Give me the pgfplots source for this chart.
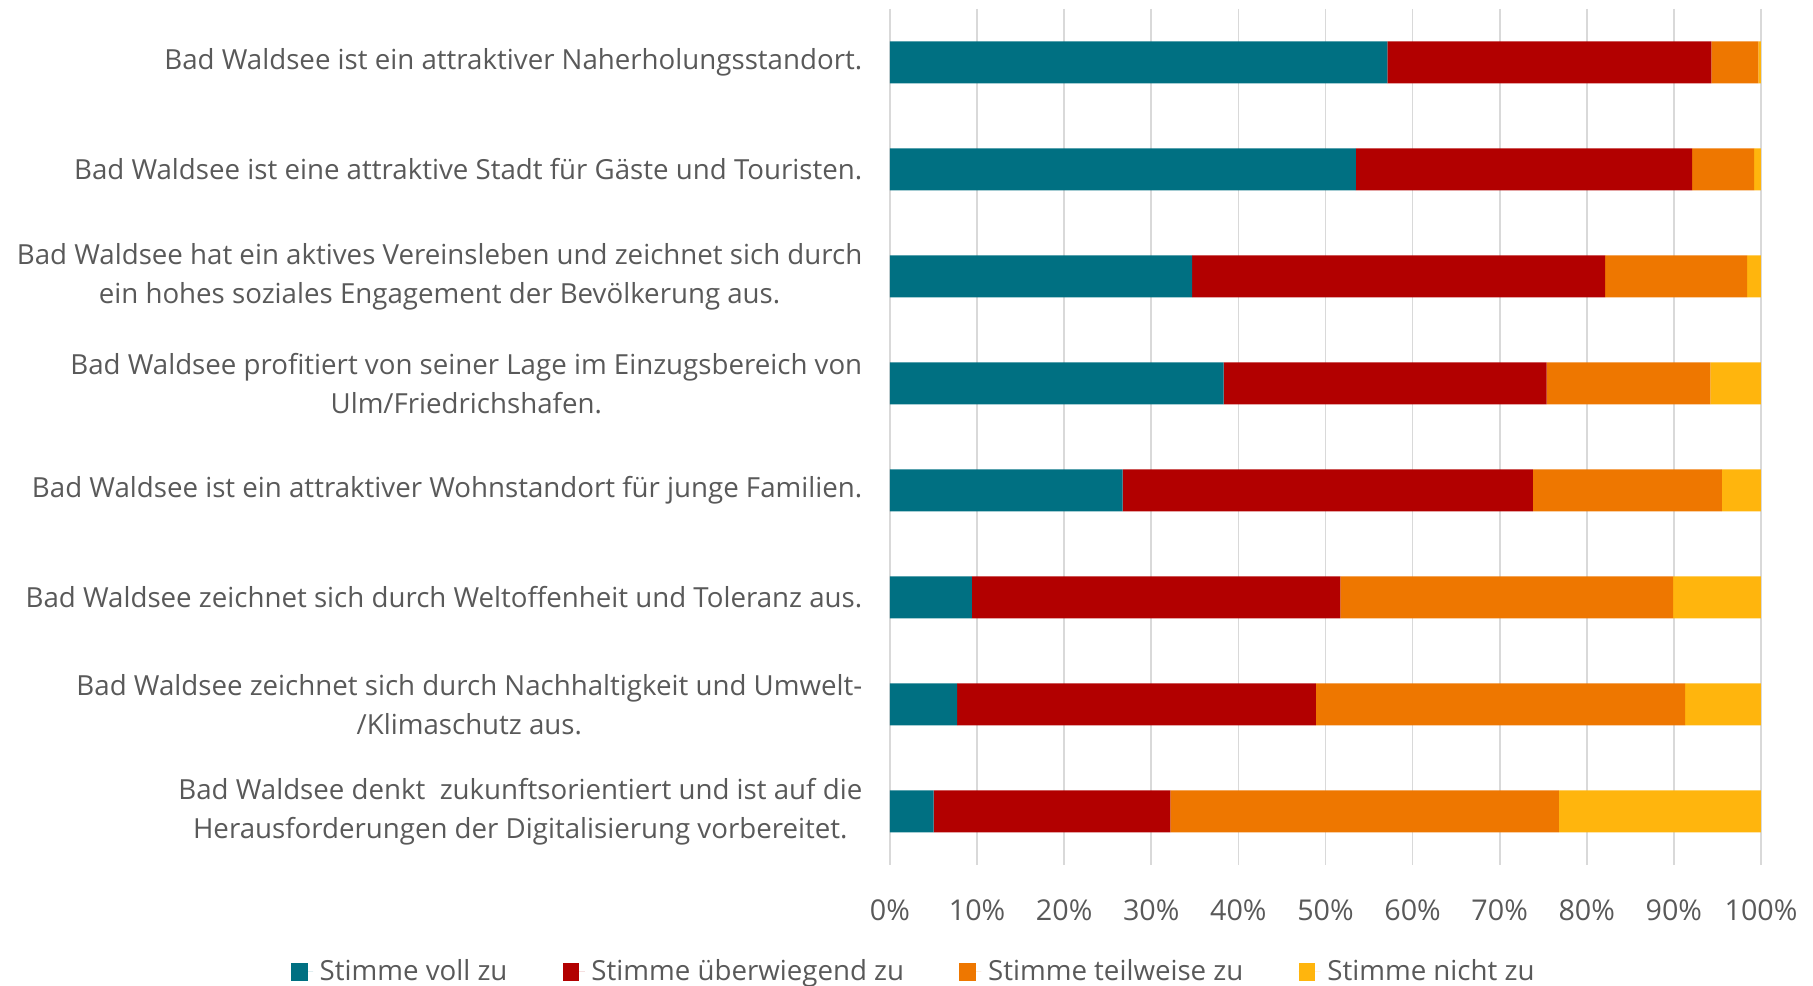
\documentclass[border=0pt]{standalone}
\usepackage{pgfplots}
\pgfplotsset{compat=1.18}
\usepackage{fontspec}
\setmainfont{Open Sans}

\definecolor{voll}{HTML}{007082}
\definecolor{ueber}{HTML}{B20000}
\definecolor{teil}{HTML}{EE7700}
\definecolor{nicht}{HTML}{FFB50D}
\definecolor{txt}{HTML}{595959}
\definecolor{grd}{HTML}{D9D9D9}

\begin{document}
\begin{tikzpicture}
\begin{axis}[
    xbar stacked,
    scale only axis,
    width=261.3pt,
    height=256.8pt,
    xmin=0, xmax=100,
    ymin=-0.5, ymax=7.5,
    y dir=reverse,
    bar width=12.6pt,
    axis line style={draw=none},
    major tick style={draw=none},
    xmajorgrids=true,
    major grid style={grd, line width=0.5pt},
    xtick={0,10,...,100},
    xticklabels={0\%,10\%,20\%,30\%,40\%,50\%,60\%,70\%,80\%,90\%,100\%},
    xticklabel style={font=\fontsize{8.6}{10}\selectfont, text=txt, yshift=-7pt},
    ytick={0,...,7},
    yticklabels={
        Bad Waldsee ist ein attraktiver Naherholungsstandort.,
        Bad Waldsee ist eine attraktive Stadt für Gäste und Touristen.,
        {Bad Waldsee hat ein aktives Vereinsleben und zeichnet sich durch\\ein hohes soziales Engagement der Bevölkerung aus.},
        {Bad Waldsee profitiert von seiner Lage im Einzugsbereich von\\Ulm/Friedrichshafen.},
        Bad Waldsee ist ein attraktiver Wohnstandort für junge Familien.,
        Bad Waldsee zeichnet sich durch Weltoffenheit und Toleranz aus.,
        {Bad Waldsee zeichnet sich durch Nachhaltigkeit und Umwelt-\\/Klimaschutz aus.},
        {Bad Waldsee denkt~ zukunftsorientiert und ist auf die\\Herausforderungen der Digitalisierung vorbereitet.}
    },
    yticklabel style={align=center, font=\fontsize{8.3}{11.7}\selectfont, text=txt, xshift=-4.8pt},
    legend columns=4,
    legend style={
        at={(0.03,-0.125)}, anchor=center, draw=none,
        font=\fontsize{8.3}{10}\selectfont, text=txt,
        /tikz/every even column/.append style={column sep=14.6pt},
    },
    legend image code/.code={
        \path (0pt,0pt) -- (6.6pt,0pt);
        \fill[#1] (0pt,-2.6pt) rectangle (5pt,2.6pt);},
]
\addplot[fill=voll, draw=none] coordinates {(57.1,0) (53.5,1) (34.7,2) (38.3,3) (26.7,4) (9.4,5) (7.7,6) (5.0,7)};
\addlegendentry{Stimme voll zu}
\addplot[fill=ueber, draw=none] coordinates {(37.2,0) (38.6,1) (47.4,2) (37.1,3) (47.1,4) (42.3,5) (41.2,6) (27.2,7)};
\addlegendentry{Stimme überwiegend zu}
\addplot[fill=teil, draw=none] coordinates {(5.4,0) (7.1,1) (16.3,2) (18.8,3) (21.7,4) (38.2,5) (42.4,6) (44.6,7)};
\addlegendentry{Stimme teilweise zu}
\addplot[fill=nicht, draw=none] coordinates {(0.3,0) (0.8,1) (1.6,2) (5.8,3) (4.5,4) (10.1,5) (8.7,6) (23.2,7)};
\addlegendentry{Stimme nicht zu}
\end{axis}
\pgfresetboundingbox
\path[use as bounding box] (-267pt,-36.3pt) rectangle (276.9pt,259.5pt);
\end{tikzpicture}
\end{document}
